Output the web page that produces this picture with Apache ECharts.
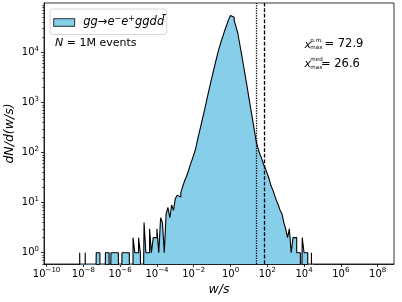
<!DOCTYPE html>
<html><head><meta charset="utf-8">
<script src="https://cdn.jsdelivr.net/npm/echarts@6/dist/echarts.min.js"></script>
<style>html,body{margin:0;padding:0;background:#fff}#c{width:402px;height:302px}</style>
</head><body><div id="c"></div>
<script>
// histogram binning (log10 of w/s)
const binStartLog10 = -8.2;
const binWidthLog10 = 0.1;
// counts per bin, left edge from -8.2 up to 4.4
const counts = [
  1,0,0,1,0,0,0,0,0,1,      // -8.2 .. -7.3
  1,0,0,0,1,1,0,1,1,1,      // -7.2 .. -6.3
  1,1,0,1,1,1,1,0,0,2,      // -6.2 .. -5.3
  1,1,2,1,0,4,1,1,3,1,      // -5.2 .. -4.3
  2,2,3,1,5,4,1,6,8,5,      // -4.2 .. -3.3
  9,7,12,14,13,16,21,27,33,42, // -3.2 .. -2.3
  55,70,90,118,175,250,360,520,740,1100, // -2.2 .. -1.3
  1600,2300,3300,4700,6700,9500,12800,17000,22000,28500, // -1.2 .. -0.3
  36000,46000,55000,51000,43600,33000,24000,15000,9300,5700, // -0.2 .. 0.7
  3450,2100,1260,760,460,275,165,120,93,76, // 0.8 .. 1.7
  58,48,38,30,22,18,14,11,9,7, // 1.8 .. 2.7
  6,4,3,2,3,1,2,2,1,1,      // 2.8 .. 3.7
  0,2,1,1,0,0,1             // 3.8 .. 4.4
];
const xTickExponents = [-10,-8,-6,-4,-2,0,2,4,6,8];
const yTickExponents = [0,1,2,3,4];
const xMedMax = 26.6;
const xPmMax = 72.9;
const nEventsLabel = '1M events';
const seriesName = 'gg→e−e+ggdd̄';

const FONT = 'DejaVu Sans';
const FLOOR = -3; // stands in for empty bins (below the visible range)
const X_MIN = -10.14, X_MAX = 8.89, Y_MIN = -0.2255, Y_MAX = 4.99;

const pts = [[binStartLog10, FLOOR]];
counts.forEach((c, i) => {
  pts.push([binStartLog10 + i * binWidthLog10, c > 0 ? Math.log10(c) : FLOOR]);
});
const lastEdge = binStartLog10 + counts.length * binWidthLog10;
const lastC = counts[counts.length - 1];
pts.push([lastEdge, lastC > 0 ? Math.log10(lastC) : FLOOR]);
pts.push([lastEdge, FLOOR]);

const yMinor = [];
for (let n = -1; n <= 4; n++) for (let k = 2; k <= 9; k++) {
  const v = n + Math.log10(k);
  if (v > Y_MIN && v < Y_MAX) yMinor.push(v);
}

const supFmt = v => {
  const e = Math.round(v);
  return '{b|10}{s|' + (e < 0 ? '−' + (-e) : String(e)) + '}';
};
const tickRich = {
  b: {fontSize: 10, fontFamily: FONT, color: '#000', lineHeight: 14},
  s: {fontSize: 7, fontFamily: FONT, color: '#000', verticalAlign: 'top', lineHeight: 8}
};
const axisLineStyle = {color: '#000', width: 0.8};

const txt = (x, y, text, size, italic) => ({
  type: 'text', x: x, y: y,
  style: {text: text, fontFamily: FONT, fontStyle: italic ? 'italic' : 'normal', fontSize: size, fill: '#000', verticalAlign: 'middle'}
});

const chart = echarts.init(document.getElementById('c'), null, {renderer: 'canvas'});
chart.setOption({
  animation: false,
  backgroundColor: '#fff',
  grid: {left: 44, right: 8, top: 3, bottom: 38, containLabel: false, outerBoundsMode: 'none',
         show: true, borderColor: '#000', borderWidth: 0.8, backgroundColor: 'transparent'},
  xAxis: [{
    type: 'value', min: X_MIN, max: X_MAX,
    axisLine: {show: true, onZero: false, lineStyle: axisLineStyle},
    axisTick: {show: true, customValues: xTickExponents, length: 3, lineStyle: axisLineStyle},
    axisLabel: {customValues: xTickExponents, formatter: supFmt, margin: 3, rich: tickRich},
    splitLine: {show: false},
    name: 'w/s', nameLocation: 'middle', nameGap: 19, nameMoveOverlap: false,
    nameTextStyle: {fontFamily: FONT, fontStyle: 'italic', fontSize: 12.5, color: '#000', verticalAlign: 'top'}
  }],
  yAxis: [{
    type: 'value', min: Y_MIN, max: Y_MAX, position: 'left',
    axisLine: {show: true, onZero: false, lineStyle: axisLineStyle},
    axisTick: {show: true, customValues: yTickExponents, length: 3, lineStyle: axisLineStyle},
    axisLabel: {customValues: yTickExponents, formatter: supFmt, margin: 5, rich: tickRich},
    splitLine: {show: false},
    name: 'dN/d(w/s)', nameLocation: 'middle', nameGap: 28, nameRotate: 90, nameMoveOverlap: false,
    nameTextStyle: {fontFamily: FONT, fontStyle: 'italic', fontSize: 12.5, color: '#000'}
  }, {
    type: 'value', min: Y_MIN, max: Y_MAX, position: 'left', offset: 0,
    axisLine: {show: false, onZero: false},
    axisTick: {show: true, customValues: yMinor, length: 1.8, lineStyle: {color: '#000', width: 0.6}},
    axisLabel: {show: false},
    splitLine: {show: false}
  }],
  legend: {
    show: true, left: 50, top: 9,
    data: [{name: seriesName, icon: 'rect'}],
    itemWidth: 21, itemHeight: 7.6,
    padding: [6, 2.5, 6, 3.3],
    borderColor: '#cccccc', borderWidth: 0.8, borderRadius: 2.5,
    backgroundColor: 'rgba(255,255,255,0.8)',
    itemStyle: {color: '#87CEEB', borderColor: '#000', borderWidth: 0.8},
    formatter: () => '{p|}{i|gg→e}{s|−}{i|e}{s|+}{i|ggdd̄}',
    textStyle: {
      rich: {
        p: {width: 3.5},
        i: {fontFamily: FONT, fontStyle: 'italic', fontSize: 11.5, color: '#000', lineHeight: 15},
        s: {fontFamily: FONT, fontSize: 8, color: '#000', verticalAlign: 'top', lineHeight: 9}
      }
    }
  },
  graphic: [
    {type: 'text', left: 55, top: 38, style: {
      text: '{i|N}{r| = ' + nEventsLabel + '}',
      rich: {i: {fontFamily: FONT, fontStyle: 'italic', fontSize: 11, fill: '#000'},
             r: {fontFamily: FONT, fontSize: 11, fill: '#000'}}}},
    // x^{p.m.}_{max} = value
    txt(304.5, 45, 'x', 11, true),
    txt(310.3, 41, 'p.m.', 5.6, false),
    txt(310.3, 48, 'max', 5.6, false),
    txt(324.5, 44.5, '= ' + xPmMax.toFixed(1), 11.5, false),
    // x^{med}_{max} = value
    txt(304.5, 64.2, 'x', 11, true),
    txt(310.3, 59.6, 'med', 5.6, false),
    txt(310.3, 67.2, 'max', 5.6, false),
    txt(321, 63.8, '= ' + xMedMax.toFixed(1), 11.5, false)
  ],
  series: [{
    name: seriesName, type: 'line', xAxisIndex: 0, yAxisIndex: 0,
    data: pts, step: 'end', showSymbol: false, symbol: 'none', clip: true,
    lineStyle: {color: '#000', width: 1.1},
    itemStyle: {color: '#87CEEB', borderColor: '#000'},
    areaStyle: {color: '#87CEEB', opacity: 1, origin: 'start'},
    silent: true,
    markLine: {
      silent: true, symbol: 'none', animation: false,
      label: {show: false},
      data: [
        {xAxis: Math.log10(xMedMax), lineStyle: {color: '#000', width: 1.3, type: [1.2, 1.3]}},
        {xAxis: Math.log10(xPmMax), lineStyle: {color: '#000', width: 1.3, type: [3.8, 1.8]}}
      ]
    }
  }]
});
</script></body></html>
